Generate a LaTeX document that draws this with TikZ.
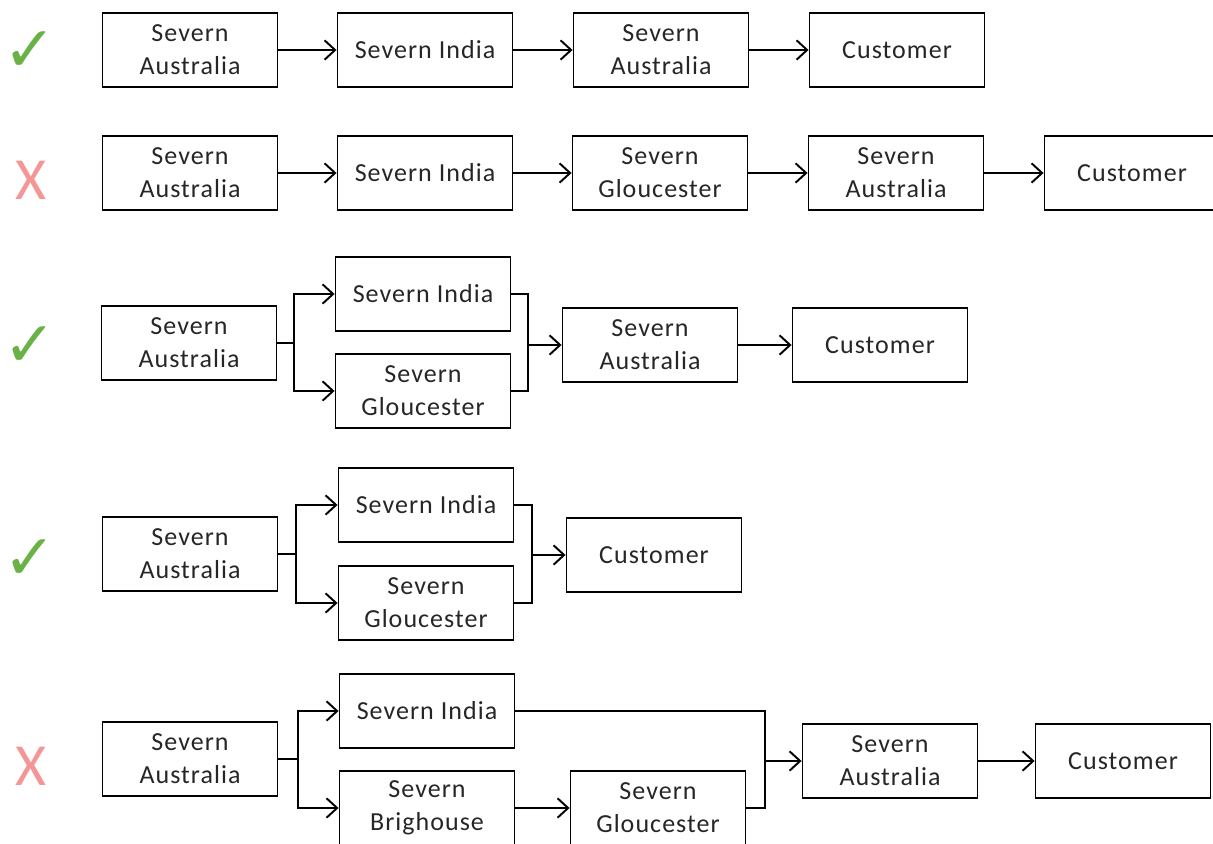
\documentclass[tikz,border=0pt]{standalone}
\usepackage{fontspec}
\setmainfont{Carlito}[LetterSpace=4]
\newfontfamily\symfont{DejaVu Sans}
\usepackage{xcolor}
\usetikzlibrary{arrows.meta,positioning}

\definecolor{okgreen}{RGB}{106,178,72}
\definecolor{badpink}{RGB}{245,150,150}

\tikzset{
  stage/.style={draw, line width=1.1pt, minimum width=3.5cm, minimum height=1.48cm,
    align=center, inner sep=0pt, font=\fontsize{14.8}{18.8}\selectfont, text=black!85},
  wire/.style={line width=1.1pt},
  flow/.style={wire, -{Straight Barb[length=6pt,width=11pt,line width=1.1pt]}},
  tick/.style={text=okgreen, font=\symfont\fontsize{36}{36}\selectfont},
  cross/.style={text=badpink, font=\fontsize{34}{34}\selectfont},
}

\begin{document}
\begin{tikzpicture}[x=0.02cm, y=-0.02cm]
 \clip (0,0) rectangle (1213,844);

 % marks
 \node[tick]  (ok1)  at (30,52)  {✓};
 \node[cross] (bad2) at (31,180) {X};
 \node[tick]  (ok3)  at (30,347) {✓};
 \node[tick]  (ok4)  at (30,560) {✓};
 \node[cross] (bad5) at (31,766) {X};

 % row 1
 \foreach \x/\n/\t in {190/a/{Severn\\Australia}, 425/b/{Severn India}, 661/c/{Severn\\Australia}, 897/d/Customer}
   \node[stage] (r1\n) at (\x,50) {\t};
 \foreach \s/\d in {a/b, b/c, c/d}
   \draw[flow] (r1\s) -- (r1\d);

 % row 2
 \foreach \x/\n/\t in {190/a/{Severn\\Australia}, 425/b/{Severn India}, 660/c/{Severn\\Gloucester}, 896/d/{Severn\\Australia}, 1132/e/Customer}
   \node[stage] (r2\n) at (\x,173) {\t};
 \foreach \s/\d in {a/b, b/c, c/d, d/e}
   \draw[flow] (r2\s) -- (r2\d);

 % row 3
 \node[stage] (r3a) at (189,343) {Severn\\Australia};
 \node[stage] (r3i) at (423,294) {Severn India};
 \node[stage] (r3g) at (423,391) {Severn\\Gloucester};
 \node[stage] (r3au) at (650,345) {Severn\\Australia};
 \node[stage] (r3c) at (880,345) {Customer};
 \coordinate (s3) at (294,343);
 \coordinate (m3) at (528,345);
 \draw[wire] (r3a.east) -- (s3);
 \draw[flow] (s3) |- (r3i.west);
 \draw[flow] (s3) |- (r3g.west);
 \draw[wire] (r3i.east) -| (m3);
 \draw[wire] (r3g.east) -| (m3);
 \draw[flow] (m3) -- (r3au.west);
 \draw[flow] (r3au) -- (r3c);

 % row 4
 \node[stage] (r4a) at (190,554) {Severn\\Australia};
 \node[stage] (r4i) at (426,505) {Severn India};
 \node[stage] (r4g) at (426,603) {Severn\\Gloucester};
 \node[stage] (r4c) at (654,555) {Customer};
 \coordinate (s4) at (296,554);
 \coordinate (m4) at (532,555);
 \draw[wire] (r4a.east) -- (s4);
 \draw[flow] (s4) |- (r4i.west);
 \draw[flow] (s4) |- (r4g.west);
 \draw[wire] (r4i.east) -| (m4);
 \draw[wire] (r4g.east) -| (m4);
 \draw[flow] (m4) -- (r4c.west);

 % row 5
 \node[stage] (r5a) at (190,759) {Severn\\Australia};
 \node[stage] (r5i) at (427,711) {Severn India};
 \node[stage] (r5b) at (427,808) {Severn\\Brighouse};
 \node[stage] (r5g) at (658,808) {Severn\\Gloucester};
 \node[stage] (r5au) at (890,761) {Severn\\Australia};
 \node[stage] (r5c) at (1123,761) {Customer};
 \coordinate (s5) at (298,759);
 \coordinate (m5) at (765,761);
 \draw[wire] (r5a.east) -- (s5);
 \draw[flow] (s5) |- (r5i.west);
 \draw[flow] (s5) |- (r5b.west);
 \draw[flow] (r5b) -- (r5g);
 \draw[wire] (r5i.east) -| (m5);
 \draw[wire] (r5g.east) -| (m5);
 \draw[flow] (m5) -- (r5au.west);
 \draw[flow] (r5au) -- (r5c);
\end{tikzpicture}
\end{document}
